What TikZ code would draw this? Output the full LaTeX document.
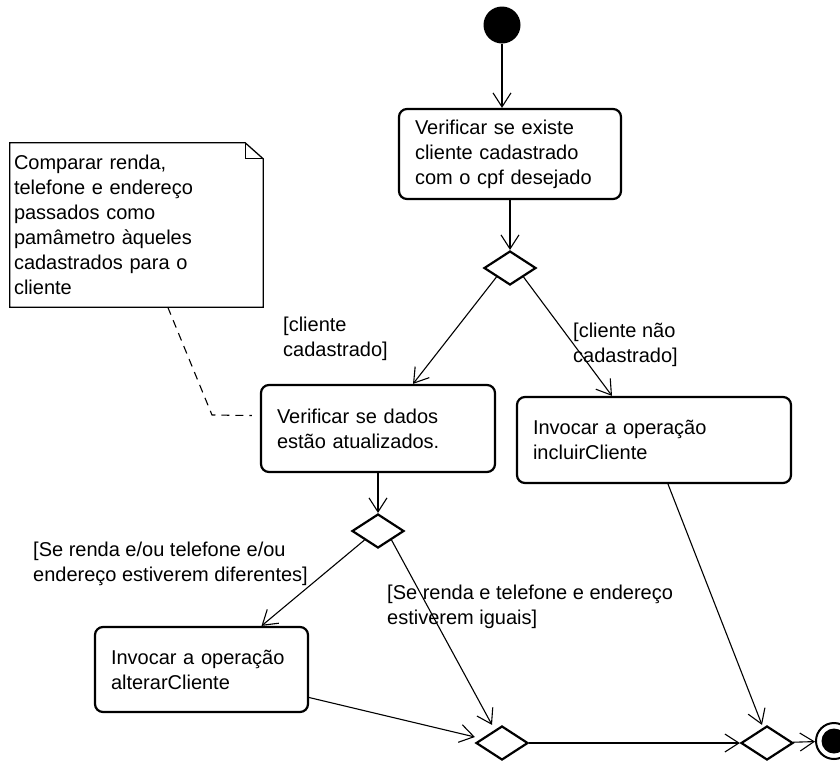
\documentclass[tikz,border=0pt]{standalone}
\usepackage{fontspec}
\setmainfont{Liberation Sans}
\usetikzlibrary{arrows.meta,shapes.geometric}

\begin{document}
\begin{tikzpicture}[x=1pt, y=-1pt,
    font=\fontsize{20}{25}\selectfont,
    act/.style={rectangle, draw, rounded corners=8pt, line width=2.2pt,
                align=left, inner xsep=16pt, inner ysep=0pt},
    dec/.style={diamond, draw, line width=2.2pt, inner sep=0pt,
                minimum width=52pt, minimum height=34pt},
    nota/.style={rectangle, align=left, inner xsep=4pt, inner ysep=0pt},
    lbl/.style={anchor=west, align=left, inner sep=0pt},
    arr/.style={-{Straight Barb[length=14pt,width=18pt]}, line width=1.1pt}
  ]
  \useasboundingbox (0,0) rectangle (840,761);
  \node[circle, fill=black, minimum size=37pt, inner sep=0pt] (ini) at (502,25) {};
  \node[act, text width=190pt, minimum height=90pt] (chk) at (510,154)
    {Verificar se existe\\cliente cadastrado\\com o cpf desejado};
  \node[dec] (d1) at (510,268) {};
  \node[act, text width=202pt, minimum height=87pt] (upd) at (378,428.5)
    {Verificar se dados\\estão atualizados.};
  \node[act, text width=242pt, minimum height=86pt] (inc) at (654,440)
    {Invocar a operação\\incluirCliente};
  \node[dec] (d2) at (378,531) {};
  \node[act, text width=181pt, minimum height=85pt] (alt) at (201.5,669.5)
    {Invocar a operação\\alterarCliente};
  \node[dec] (d3) at (502,743) {};
  \node[dec] (d4) at (767,743) {};
  \node[circle, draw, line width=2pt, minimum size=36pt, inner sep=0pt] (fim) at (834,741) {};
  \fill (fim.center) circle (12.5pt);

  \node[nota, text width=245pt, minimum height=164pt] (nt) at (136.5,225)
    {Comparar renda,\\telefone e endereço\\passados como\\pamâmetro àqueles\\cadastrados para o\\cliente};
  \draw[line width=1.3pt] (nt.north west) -- ([xshift=-18pt]nt.north east)
    -- ([yshift=-16pt]nt.north east) -- (nt.south east) -- (nt.south west) -- cycle;
  \draw[line width=1.3pt] ([xshift=-18pt]nt.north east) |- ([yshift=-16pt]nt.north east);
  \coordinate (kink) at (212,415);
  \draw[dash pattern=on 8pt off 6pt, line width=1.1pt]
    ([xshift=158pt]nt.south west) -- (kink) -- ([xshift=-8pt,yshift=13pt]upd.west);

  \node[lbl] (g1) at (283,339) {[cliente\\cadastrado]};
  \node[lbl] (g2) at (573,345) {[cliente não\\cadastrado]};
  \node[lbl] (g3) at (33,564) {[Se renda e/ou telefone e/ou\\endereço estiverem diferentes]};
  \node[lbl] (g4) at (387,607) {[Se renda e telefone e endereço\\estiverem iguais]};

  \draw[arr] (ini) -- (ini |- chk.north);
  \foreach \a/\b in {chk/d1,upd/d2,d3/d4,d4/fim}
    \draw[arr] (\a) -- (\b);
  \draw[arr] (d1.south west) -- ([xshift=35pt]upd.north);
  \draw[arr] (d1.south east) -- ([xshift=-42pt]inc.north);
  \draw[arr] (d2.south west) -- ([xshift=60pt]alt.north);
  \draw[arr] (d2.south east) -- ([xshift=-10pt]d3.north);
  \draw[arr] ([yshift=-28pt]alt.east) -- ([yshift=6pt]d3.west);
  \draw[arr] ([xshift=14pt]inc.south) -- ([xshift=-5pt]d4.north);
\end{tikzpicture}
\end{document}
